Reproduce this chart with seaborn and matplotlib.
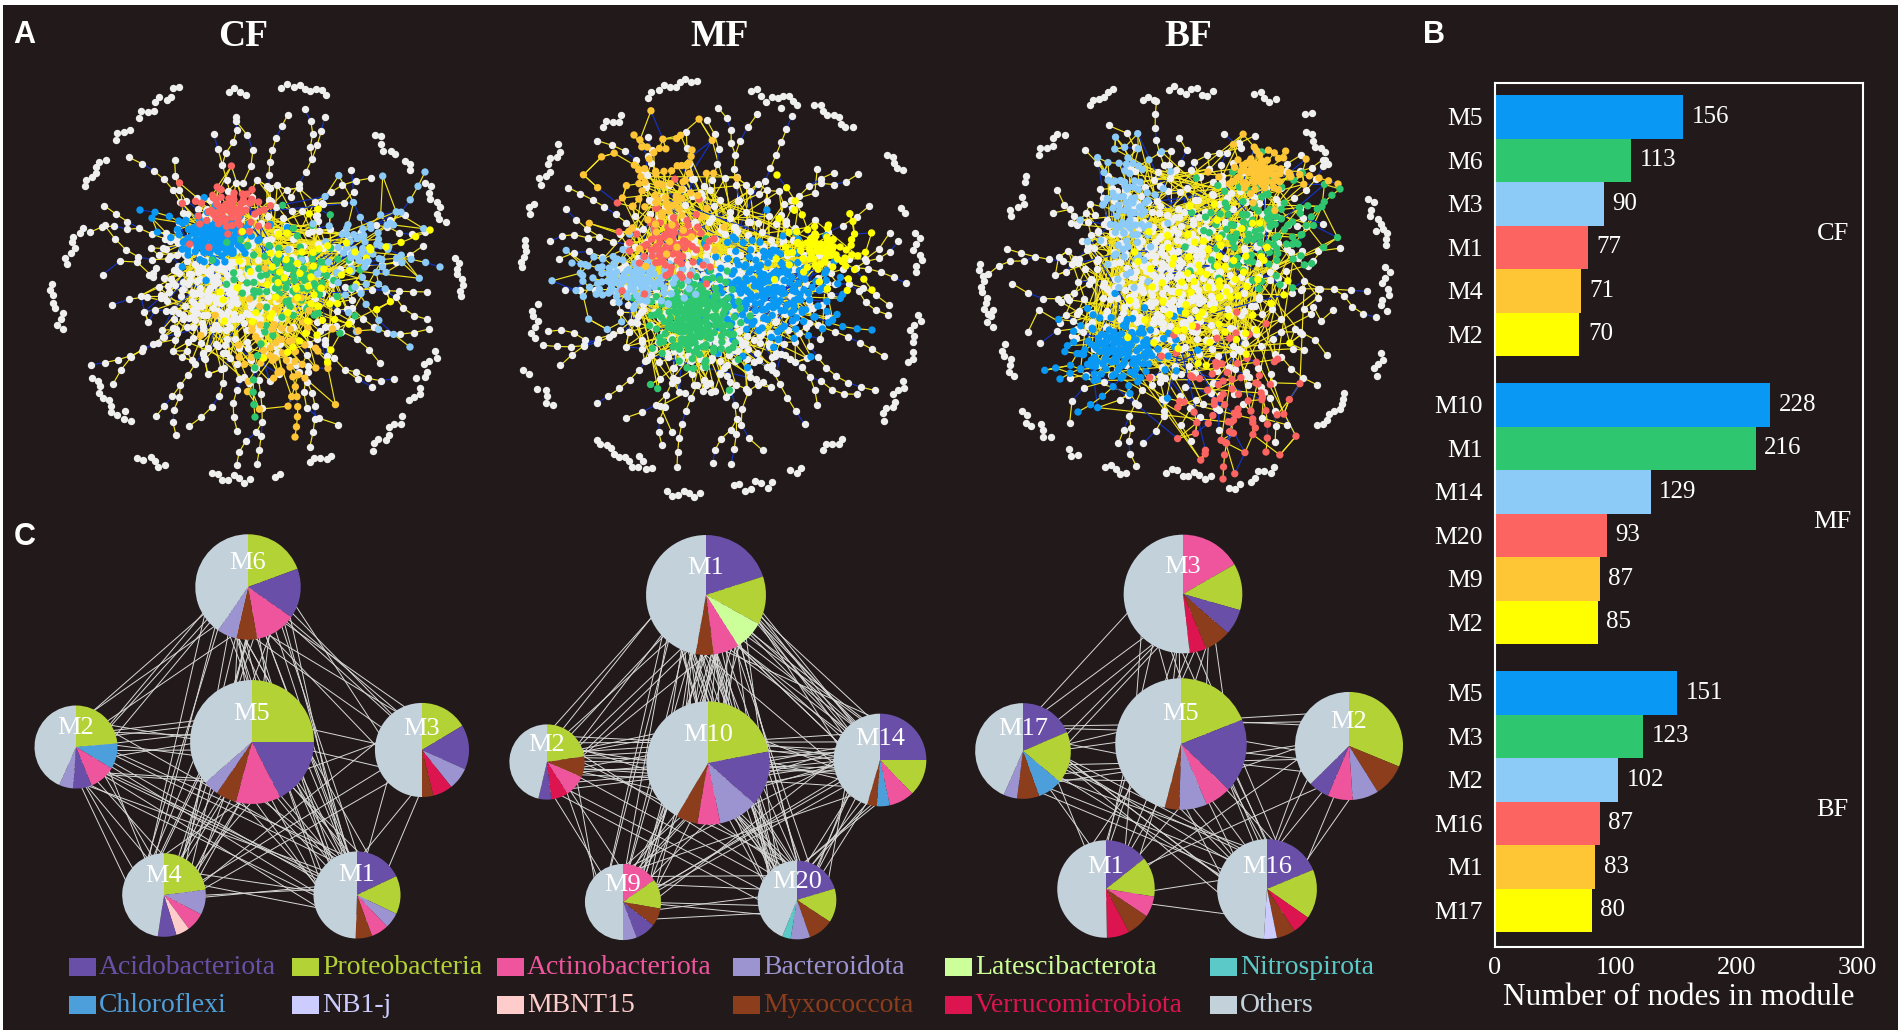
import numpy as np
import pandas as pd
import matplotlib
matplotlib.use("Agg")
import matplotlib.pyplot as plt
import seaborn as sns
from matplotlib.collections import LineCollection
from matplotlib.patches import Rectangle

# ======================= DATA =======================
groups = ["CF", "MF", "BF"]
cf_modules = ["M5", "M6", "M3", "M1", "M4", "M2"]
cf_nodes = [156, 113, 90, 77, 71, 70]
mf_modules = ["M10", "M1", "M14", "M20", "M9", "M2"]
mf_nodes = [228, 216, 129, 93, 87, 85]
bf_modules = ["M5", "M3", "M2", "M16", "M1", "M17"]
bf_nodes = [151, 123, 102, 87, 83, 80]

# white (non-module) core nodes in the panel-A networks (estimated)
cf_other_nodes = 380
mf_other_nodes = 460
bf_other_nodes = 500

phyla = ["Acidobacteriota", "Proteobacteria", "Actinobacteriota", "Bacteroidota",
         "Latescibacterota", "Nitrospirota", "Chloroflexi", "NB1-j", "MBNT15",
         "Myxococcota", "Verrucomicrobiota", "Others"]

# module composition (% of nodes, clockwise from 12 o'clock)
cf_pies = {
    "M6": (["Proteobacteria", "Acidobacteriota", "Actinobacteriota", "Myxococcota", "Bacteroidota", "Others"], [19.4, 15.3, 12.5, 6.4, 6.0, 40.4]),
    "M5": (["Proteobacteria", "Acidobacteriota", "Actinobacteriota", "Myxococcota", "Bacteroidota", "Others"], [25.0, 17.5, 11.7, 5.4, 4.0, 36.4]),
    "M2": (["Proteobacteria", "Chloroflexi", "Actinobacteriota", "Acidobacteriota", "Bacteroidota", "Others"], [23.6, 10.0, 10.3, 7.2, 5.5, 43.4]),
    "M3": (["Proteobacteria", "Acidobacteriota", "Bacteroidota", "Verrucomicrobiota", "Myxococcota", "Others"], [16.4, 15.3, 7.6, 6.8, 3.9, 50.0]),
    "M4": (["Proteobacteria", "Bacteroidota", "Actinobacteriota", "MBNT15", "Acidobacteriota", "Others"], [23.0, 9.7, 7.2, 5.3, 7.2, 47.6]),
    "M1": (["Acidobacteriota", "Proteobacteria", "Bacteroidota", "Actinobacteriota", "Myxococcota", "Others"], [17.9, 14.2, 5.8, 6.5, 6.1, 49.5]),
}
mf_pies = {
    "M1": (["Acidobacteriota", "Proteobacteria", "Latescibacterota", "Actinobacteriota", "Myxococcota", "Others"], [20.0, 13.0, 8.0, 6.9, 4.9, 47.2]),
    "M10": (["Proteobacteria", "Acidobacteriota", "Bacteroidota", "Actinobacteriota", "Myxococcota", "Others"], [22.0, 14.5, 10.3, 6.0, 5.7, 41.5]),
    "M2": (["Proteobacteria", "Myxococcota", "Actinobacteriota", "Verrucomicrobiota", "Acidobacteriota", "Others"], [22.6, 9.0, 9.2, 7.4, 5.5, 46.3]),
    "M14": (["Acidobacteriota", "Proteobacteria", "Actinobacteriota", "Chloroflexi", "Myxococcota", "Others"], [25.0, 12.8, 8.8, 4.5, 3.4, 45.5]),
    "M9": (["Actinobacteriota", "Proteobacteria", "Myxococcota", "Acidobacteriota", "Bacteroidota", "Others"], [15.2, 12.6, 7.7, 8.6, 5.9, 50.0]),
    "M20": (["Acidobacteriota", "Proteobacteria", "Myxococcota", "Bacteroidota", "Nitrospirota", "Others"], [20.3, 14.0, 10.3, 8.0, 3.5, 43.9]),
}
bf_pies = {
    "M3": (["Actinobacteriota", "Proteobacteria", "Acidobacteriota", "Myxococcota", "Verrucomicrobiota", "Others"], [16.7, 12.7, 7.0, 7.2, 4.6, 51.8]),
    "M5": (["Proteobacteria", "Acidobacteriota", "Actinobacteriota", "Bacteroidota", "Myxococcota", "Others"], [19.0, 18.2, 6.4, 6.8, 3.6, 46.0]),
    "M17": (["Acidobacteriota", "Proteobacteria", "Chloroflexi", "Myxococcota", "Bacteroidota", "Others"], [18.5, 17.6, 8.4, 7.5, 4.6, 43.4]),
    "M2": (["Proteobacteria", "Myxococcota", "Bacteroidota", "Actinobacteriota", "Acidobacteriota", "Others"], [31.2, 9.9, 7.8, 7.5, 6.2, 37.4]),
    "M1": (["Acidobacteriota", "Proteobacteria", "Actinobacteriota", "Myxococcota", "Verrucomicrobiota", "Others"], [14.3, 13.2, 6.9, 7.8, 7.5, 50.3]),
    "M16": (["Acidobacteriota", "Proteobacteria", "Verrucomicrobiota", "Myxococcota", "NB1-j", "Others"], [18.7, 16.0, 6.0, 6.1, 4.2, 49.0]),
}

# inter-module links (module a, module b, number of edges) - estimated
cf_links = [("M6", "M2", 6), ("M6", "M5", 10), ("M6", "M3", 8), ("M6", "M4", 8), ("M6", "M1", 10),
            ("M5", "M2", 10), ("M5", "M3", 3), ("M5", "M4", 12), ("M5", "M1", 15), ("M2", "M4", 6),
            ("M2", "M1", 10), ("M3", "M1", 3), ("M3", "M4", 3), ("M4", "M1", 4)]
mf_links = [("M1", "M10", 25), ("M1", "M2", 8), ("M1", "M14", 20), ("M1", "M9", 10), ("M1", "M20", 12),
            ("M10", "M2", 10), ("M10", "M14", 12), ("M10", "M9", 10), ("M10", "M20", 15), ("M2", "M14", 8),
            ("M2", "M9", 4), ("M2", "M20", 5), ("M14", "M9", 6), ("M14", "M20", 10), ("M9", "M20", 6)]
bf_links = [("M3", "M5", 8), ("M3", "M17", 5), ("M3", "M1", 4), ("M3", "M16", 2), ("M5", "M17", 6),
            ("M5", "M2", 6), ("M5", "M1", 5), ("M5", "M16", 10), ("M17", "M2", 3), ("M17", "M16", 10),
            ("M17", "M1", 2), ("M2", "M16", 5), ("M2", "M1", 2), ("M1", "M16", 2)]

# ======================= STYLE / LAYOUT =======================
BG = "#221a1a"
rank_colors = ["#0a98f5", "#2fc670", "#8ccbf7", "#fb6461", "#fec535", "#ffff00"]
phylum_colors = ["#6a4fa8", "#b2d235", "#ee559d", "#9c94d0", "#ccff99", "#5cc9c9",
                 "#4d9fdb", "#ccccff", "#ffcccc", "#8b3d1c", "#dc1450", "#c3d1da"]
pcol = dict(zip(phyla, phylum_colors))
YELLOW = "#f4e41c"
BLUE = "#1233c4"
WHITE_NODE = "#efefef"

sns.set_theme(style="white")
plt.rcParams["font.family"] = ["Liberation Serif", "DejaVu Serif"]

W, H = 1904, 1033
fig = plt.figure(figsize=(W / 100, H / 100), dpi=100, facecolor="white")
fig.patches.append(Rectangle((3 / W, 3 / H), 1895 / W, 1025 / H, transform=fig.transFigure,
                             facecolor=BG, edgecolor="none", zorder=-10))
ax = fig.add_axes([0, 0, 1, 1])
ax.patch.set_alpha(0)


# ---------- deterministic quasi-random layout helpers ----------
def halton(n, base, start):
    out = np.empty(n)
    for i in range(n):
        k = start + i
        f, r = 1.0, 0.0
        while k > 0:
            f /= base
            r += f * (k % base)
            k //= base
        out[i] = r
    return out


class QSeq:
    def __init__(self, start):
        self.i = start

    def take(self, n):
        a = halton(n, 2, self.i)
        b = halton(n, 3, self.i)
        c = halton(n, 5, self.i)
        self.i += n
        return a, b, c


def gauss_blob(seq, n, cx, cy, sx, sy, cap=2.3):
    if n <= 0:
        return np.empty(0), np.empty(0)
    u, v, _ = seq.take(n)
    g = np.minimum(np.sqrt(-2 * np.log(u)), cap)
    th = 2 * np.pi * v
    return cx + sx * g * np.cos(th), cy + sy * g * np.sin(th)


def chain_pts(p0, p1, n, bend):
    t = np.linspace(0, 1, n)
    p0 = np.array(p0, float)
    p1 = np.array(p1, float)
    d = p1 - p0
    L = np.hypot(*d)
    perp = np.array([-d[1], d[0]]) / L
    return p0[None, :] + t[:, None] * d[None, :] + (bend * np.sin(np.pi * t))[:, None] * perp[None, :]


net_layout = {
    "CF": dict(center=(255, 282), ring=205, core=105, wc=(-35, 5), n_chains=26, phase=3, ring_groups=30,
               blobs=[(-38, -45, 18, 11, 0.8), (35, -5, 28, 18, 0.7), (105, -30, 18, 20, 0.6),
                      (-25, -72, 16, 11, 0.8), (25, 65, 24, 26, 0.7), (45, 5, 40, 35, 0.3)],
               chains=[(1, (10, 50), (0, 135), 8, 6), (4, (35, 85), (40, 155), 8, -5),
                       (2, (110, -40), (170, -110), 7, 8), (2, (112, -20), (185, -15), 6, -6),
                       (2, (100, 5), (155, 65), 5, 5), (5, (100, -30), (175, -52), 6, 4),
                       (0, (-60, -50), (-115, -72), 5, 5)]),
    "MF": dict(center=(722, 285), ring=212, core=115, wc=(0, 20), n_chains=28, phase=10, ring_groups=32,
               blobs=[(45, 5, 34, 24, 0.8), (-27, 33, 20, 22, 0.9), (-90, -5, 26, 13, 0.75),
                      (-52, -42, 18, 16, 0.8), (-60, -95, 20, 28, 0.45), (100, -35, 16, 11, 0.6)],
               chains=[(4, (-50, -60), (-88, -150), 8, 6), (4, (-40, -70), (-30, -135), 5, -4),
                       (5, (90, -40), (55, -110), 6, 5), (5, (110, -30), (150, 5), 5, -4),
                       (0, (80, 25), (150, 45), 6, 5), (2, (-100, -5), (-150, -22), 5, 4)]),
    "BF": dict(center=(1188, 284), ring=208, core=135, wc=(-20, -10), n_chains=28, phase=0, ring_groups=32,
               blobs=[(-68, 66, 24, 15, 0.75), (70, -55, 30, 26, 0.7), (-60, -75, 12, 35, 0.7),
                      (40, 110, 25, 36, 0.45), (72, -112, 13, 10, 0.7), (20, 0, 45, 42, 0.2)],
               chains=[(4, (82, -110), (150, -100), 8, -4), (1, (152, -95), (110, -40), 8, 6),
                       (3, (50, 125), (35, 195), 7, 4), (3, (70, 100), (78, 168), 6, -5),
                       (0, (-85, 80), (-128, 95), 5, 3), (0, (-65, 92), (-110, 128), 5, -3)]),
}


def build_net(lay, sizes, n_other, seq):
    cx, cy = lay["center"]
    Rr, Rc = lay["ring"], lay["core"]
    X, Y, K = [], [], []
    segs, scol = [], []
    counter = [0]

    def add(xs, ys, key):
        X.extend(list(xs))
        Y.extend(list(ys))
        K.extend([key] * len(xs))

    n1 = int(n_other * 0.45)
    u, v, _ = seq.take(n1)
    r = Rc * np.sqrt(u)
    th = 2 * np.pi * v
    add(cx + r * np.cos(th), cy + r * np.sin(th), "o")
    xs, ys = gauss_blob(seq, n_other - n1, cx + lay["wc"][0], cy + lay["wc"][1], Rc * 0.33, Rc * 0.33)
    add(xs, ys, "o")

    chain_count = [0] * 6
    for (m, p0, p1, n, b) in lay["chains"]:
        chain_count[m] += n
    for m, (dx, dy, sx, sy, fd) in enumerate(lay["blobs"]):
        nb = sizes[m] - chain_count[m]
        nd = int(round(nb * fd))
        xs, ys = gauss_blob(seq, nd, cx + dx, cy + dy, sx, sy)
        add(xs, ys, "m%d" % m)
        xs, ys = gauss_blob(seq, nb - nd, cx + dx, cy + dy, min(sx * 2.0, 40), min(sy * 2.0, 40), cap=2.0)
        add(xs, ys, "m%d" % m)

    core = np.column_stack([X, Y])
    N = len(core)
    d = np.hypot(core[:, None, 0] - core[None, :, 0], core[:, None, 1] - core[None, :, 1])
    np.fill_diagonal(d, np.inf)
    nn = np.argsort(d, axis=1)[:, :2]

    def edge(a, b, blue_every):
        segs.append([tuple(a), tuple(b)])
        scol.append(BLUE if counter[0] % blue_every == 0 else YELLOW)
        counter[0] += 1

    for i in range(N):
        for j in nn[i]:
            if d[i, j] < 60:
                edge(core[i], core[j], 5)
    for i in range(0, N, 2):
        for mult, off in ((97, 31), (211, 7)):
            j = (i * mult + off) % N
            if 30 < d[i, j] < 140:
                edge(core[i], core[j], 7)

    def add_chain(pts, key):
        dd = np.hypot(core[:, 0] - pts[0, 0], core[:, 1] - pts[0, 1])
        j = int(np.argmin(dd))
        full = np.vstack([core[j], pts])
        for a, b in zip(full[:-1], full[1:]):
            edge(a, b, 4)
        add(pts[:, 0], pts[:, 1], key)

    for (m, p0, p1, n, b) in lay["chains"]:
        add_chain(chain_pts((cx + p0[0], cy + p0[1]), (cx + p1[0], cy + p1[1]), n, b), "m%d" % m)

    nwc = lay["n_chains"]
    h1, h2, h3 = seq.take(nwc)
    for k in range(nwc):
        ang = np.deg2rad(lay["phase"] + k * 360 / nwc + 8 * (h1[k] - 0.5))
        r0 = Rc * (0.7 + 0.3 * h2[k])
        r1 = Rr * (0.70 + 0.20 * h3[k])
        n = max(3, int((r1 - r0) / 11))
        p0 = (cx + r0 * np.cos(ang), cy + r0 * np.sin(ang))
        p1 = (cx + r1 * np.cos(ang), cy + r1 * np.sin(ang))
        pts = chain_pts(p0, p1, n, 40 * (h2[k] - 0.5))
        add_chain(pts, "o")
        if k % 3 == 0 and n > 4:
            a2 = ang + (0.55 if k % 2 == 0 else -0.55)
            s0 = pts[n // 2]
            sp = chain_pts(s0 + 12 * np.array([np.cos(a2), np.sin(a2)]),
                           s0 + 50 * np.array([np.cos(a2), np.sin(a2)]), 4, 5)
            edge(s0, sp[0], 4)
            for a, b in zip(sp[:-1], sp[1:]):
                edge(a, b, 4)
            add(sp[:, 0], sp[:, 1], "o")

    # outer ring of small isolated components, laid along arcs
    G = lay["ring_groups"]
    g1, g2, g3 = seq.take(G)
    for k in range(G):
        if g1[k] < 0.25:
            continue
        ang0 = np.deg2rad(k * 360 / G + 5 * (g2[k] - 0.5))
        rad = Rr * (0.90 + 0.11 * g3[k])
        n = 2 + int((g1[k] - 0.25) * 11)
        step = 5.5 / rad
        angs = ang0 + (np.arange(n) - (n - 1) / 2) * step
        wob = (2.0 + 3.0 * g2[k]) * np.sin(np.arange(n) * 1.7)
        tilt = (np.arange(n) - (n - 1) / 2) * 2.2 * (g3[k] - 0.5)
        rr = rad + wob + tilt
        add(cx + rr * np.cos(angs), cy + rr * np.sin(angs), "o")
    return pd.DataFrame(dict(x=X, y=Y, key=K)), segs, scol


seq = QSeq(1)
node_pal = {"m%d" % i: c for i, c in enumerate(rank_colors)}
for gname, sizes, n_other in [("CF", cf_nodes, cf_other_nodes), ("MF", mf_nodes, mf_other_nodes),
                              ("BF", bf_nodes, bf_other_nodes)]:
    df, segs, scol = build_net(net_layout[gname], sizes, n_other, seq)
    ax.add_collection(LineCollection(segs, colors=scol, linewidths=0.85, zorder=1))
    sns.scatterplot(data=df[df.key == "o"], x="x", y="y", color=WHITE_NODE, s=28, linewidth=0,
                    ax=ax, zorder=2, legend=False)
    sns.scatterplot(data=df[df.key != "o"], x="x", y="y", hue="key", palette=node_pal, s=28,
                    linewidth=0, ax=ax, zorder=3, legend=False)

# ---------------- panel C: module pies ----------------
pie_layout = {
    "CF": dict(scale=4.96, pos={"M6": (248, 587), "M5": (252, 742), "M2": (76, 747), "M3": (422, 750),
                                "M4": (164, 895), "M1": (357, 895)}),
    "MF": dict(scale=4.08, pos={"M1": (706, 595), "M10": (708, 763), "M2": (547, 762), "M14": (880, 760),
                                "M9": (623, 902), "M20": (797, 900)}),
    "BF": dict(scale=5.35, pos={"M3": (1183, 594), "M5": (1181, 744), "M17": (1023, 751), "M2": (1349, 746),
                                "M1": (1106, 889), "M16": (1267, 889)}),
}


def draw_pies(gname, mods, nodes, pies, links):
    lay = pie_layout[gname]
    pos = lay["pos"]
    size = dict(zip(mods, nodes))
    rad = {m: lay["scale"] * np.sqrt(size[m]) for m in mods}
    segs = []
    for a, b, n in links:
        u1, v1, _ = seq.take(n)
        u2, v2, _ = seq.take(n)
        pa = np.column_stack([pos[a][0] + 0.8 * rad[a] * np.sqrt(u1) * np.cos(2 * np.pi * v1),
                              pos[a][1] + 0.8 * rad[a] * np.sqrt(u1) * np.sin(2 * np.pi * v1)])
        pb = np.column_stack([pos[b][0] + 0.8 * rad[b] * np.sqrt(u2) * np.cos(2 * np.pi * v2[::-1]),
                              pos[b][1] + 0.8 * rad[b] * np.sqrt(u2) * np.sin(2 * np.pi * v2[::-1])])
        segs.extend([[tuple(p), tuple(q)] for p, q in zip(pa, pb)])
    ax.add_collection(LineCollection(segs, colors="#d9d9d9", linewidths=0.7, zorder=4))
    for m in mods:
        names, vals = pies[m]
        ax.pie(vals, colors=[pcol[nm] for nm in names], startangle=-90, counterclock=True,
               center=pos[m], radius=rad[m], frame=True,
               wedgeprops=dict(linewidth=0, zorder=5))
        ax.text(pos[m][0], pos[m][1] - 0.45 * rad[m], m, color="white", fontsize=19,
                ha="center", va="center", zorder=6)


draw_pies("CF", cf_modules, cf_nodes, cf_pies, cf_links)
draw_pies("MF", mf_modules, mf_nodes, mf_pies, mf_links)
draw_pies("BF", bf_modules, bf_nodes, bf_pies, bf_links)

# legend (panel C)
legend_rows = [["Acidobacteriota", "Proteobacteria", "Actinobacteriota", "Bacteroidota", "Latescibacterota", "Nitrospirota"],
               ["Chloroflexi", "NB1-j", "MBNT15", "Myxococcota", "Verrucomicrobiota", "Others"]]
leg_x = [69, 292, 497, 733, 945, 1210]
leg_y = [967, 1005]
for ri, row in enumerate(legend_rows):
    for ci, name in enumerate(row):
        x0, y0 = leg_x[ci], leg_y[ri]
        ax.add_patch(Rectangle((x0, y0 - 9), 27, 18, facecolor=pcol[name], edgecolor="none", zorder=5))
        ax.text(x0 + 30, y0 + 1, name, color=pcol[name], fontsize=20, ha="left", va="center", zorder=6,
                family=["Liberation Serif", "DejaVu Serif"])

# titles and panel letters
for t, x in zip(groups, [243, 720, 1188]):
    ax.text(x, 37, t, color="white", fontsize=27, fontweight="bold", ha="center", va="center")
for t, (x, y) in zip(["A", "B", "C"], [(24, 35), (1434, 35), (25, 537)]):
    ax.text(x, y, t, color="white", fontsize=22, fontweight="bold", ha="center", va="center",
            family=["Liberation Sans", "DejaVu Sans"])

ax.set_xlim(0, W)
ax.set_ylim(H, 0)
ax.set_aspect("auto")
ax.axis("off")

# ---------------- panel B: bar chart ----------------
rows = []
GAP = 6.62
for g, (mods, vals) in enumerate([(cf_modules, cf_nodes), (mf_modules, mf_nodes), (bf_modules, bf_nodes)]):
    for i, (m, v) in enumerate(zip(mods, vals)):
        rows.append(dict(group=groups[g], module=m, nodes=v, rank="m%d" % i, pos=g * GAP + i))
dfB = pd.DataFrame(rows)

axB = fig.add_axes([1495 / W, (H - 947) / H, (1863 - 1495) / W, (947 - 83) / H])
sns.barplot(data=dfB, x="nodes", y="pos", hue="rank", palette=node_pal, orient="h",
            native_scale=True, width=1.0, dodge=False, legend=False, saturation=1,
            linewidth=0, ax=axB)
axB.set_facecolor("none")
axB.grid(False)
axB.set_xlim(0, 305)
axB.set_ylim(2 * GAP + 5 + 0.5 + 0.34, -0.5 - 0.28)
axB.set_yticks(dfB["pos"])
axB.set_yticklabels(dfB["module"])
axB.set_xticks([0, 100, 200, 300])
axB.set_xticklabels(["0", "100", "200", "300"])
axB.tick_params(axis="y", length=0, pad=9, labelsize=18.5, labelcolor="white")
axB.tick_params(axis="x", length=0, pad=7, labelsize=19, labelcolor="white")
axB.set_ylabel("")
axB.set_xlabel("Number of nodes in module", color="white", fontsize=22.5, labelpad=3)
for sp in axB.spines.values():
    sp.set_visible(True)
    sp.set_color("white")
    sp.set_linewidth(1.5)
for _, r in dfB.iterrows():
    axB.text(r["nodes"] + 7, r["pos"], str(r["nodes"]), color="white", fontsize=18,
             ha="left", va="center")
for g, name in enumerate(groups):
    axB.text(280, g * GAP + 2.7, name, color="white", fontsize=19, ha="center", va="center")

fig.savefig("out.png", dpi=100, facecolor=fig.get_facecolor())
